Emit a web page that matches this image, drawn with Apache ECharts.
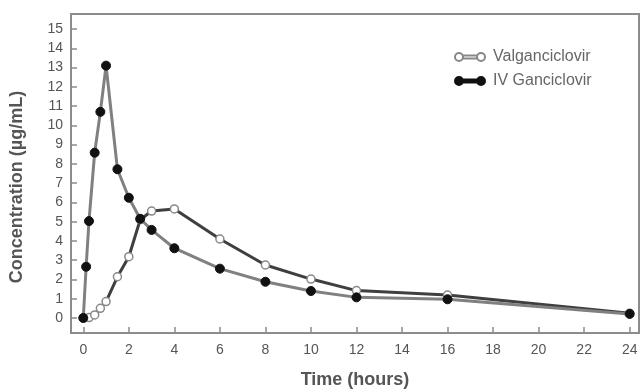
<!DOCTYPE html>
<html>
<head>
<meta charset="utf-8">
<script src="https://cdn.jsdelivr.net/npm/echarts@6/dist/echarts.min.js"></script>
<style>
  html, body { margin: 0; padding: 0; background: #fff; }
  #chart { width: 641px; height: 389px; }
</style>
</head>
<body>
<div id="chart"></div>
<script>
// values (time in hours, concentration in µg/mL)
var valganTimes = [0, 0.25, 0.5, 0.75, 1, 1.5, 2, 2.5, 3, 4, 6, 8, 10, 12, 16, 24];
var valganConc = [0, 0.02, 0.16, 0.5, 0.85, 2.14, 3.18, 5.1, 5.55, 5.66, 4.1, 2.75, 2.02, 1.42, 1.19, 0.25];

var ivTimes = [0, 0.125, 0.25, 0.5, 0.75, 1, 1.5, 2, 2.5, 3, 4, 6, 8, 10, 12, 16, 24];
var ivConc = [0, 2.66, 5.03, 8.58, 10.7, 13.1, 7.72, 6.24, 5.15, 4.57, 3.62, 2.56, 1.88, 1.4, 1.07, 0.97, 0.21];

var seriesNames = ["Valganciclovir", "IV Ganciclovir"];

// tick labels
var xTicks = [0, 2, 4, 6, 8, 10, 12, 14, 16, 18, 20, 22, 24];
var yTicks = [0, 1, 2, 3, 4, 5, 6, 7, 8, 9, 10, 11, 12, 13, 14, 15];

function pairs(xs, ys) {
  return xs.map(function (x, i) { return [x, ys[i]]; });
}

var labelColor = "#555";
var frameColor = "#8c8c8c";
var font = "Liberation Sans";
// line with a circle at each end, like the legend keys in the figure
var legendKey = "path://M0,4a4,4 0 1,0 8,0a4,4 0 1,0 -8,0zM22,4a4,4 0 1,0 8,0a4,4 0 1,0 -8,0zM8,2.5h14v3h-14z";

var myecharts = echarts.init(document.getElementById("chart"));

var option = {
  animation: false,
  backgroundColor: "#fff",
  grid: {
    left: 71, right: 2, top: 14, bottom: 56,
    outerBoundsMode: "none",
    containLabel: false,
    show: true, borderColor: frameColor, borderWidth: 2
  },
  legend: {
    orient: "vertical",
    left: 449,
    top: 44,
    icon: legendKey,
    itemWidth: 30,
    itemHeight: 8,
    itemGap: 8,
    textStyle: { fontFamily: font, fontSize: 16, color: "#666", padding: [0, 0, 0, 3] },
    data: seriesNames
  },
  xAxis: {
    type: "value",
    min: -0.54,
    max: 24.41,
    name: "Time (hours)",
    nameLocation: "middle",
    nameGap: 38,
    nameTextStyle: { fontFamily: font, fontSize: 18, fontWeight: "bold", color: labelColor },
    axisLine: { show: false, onZero: false },
    axisTick: { show: true, inside: true, length: 6, customValues: xTicks, lineStyle: { color: frameColor, width: 1.5 } },
    axisLabel: { margin: 10, customValues: xTicks, fontFamily: font, fontSize: 14, color: labelColor },
    splitLine: { show: false }
  },
  yAxis: {
    type: "value",
    min: -0.78,
    max: 15.78,
    name: "Concentration (µg/mL)",
    nameLocation: "middle",
    nameGap: 45,
    nameTextStyle: { fontFamily: font, fontSize: 18, fontWeight: "bold", color: labelColor, padding: [0, 27, 0, 0] },
    axisLine: { show: false, onZero: false },
    axisTick: { show: true, inside: true, length: 6, customValues: yTicks, lineStyle: { color: frameColor, width: 1.5 } },
    axisLabel: { margin: 8, customValues: yTicks, fontFamily: font, fontSize: 14, color: labelColor },
    splitLine: { show: false }
  },
  series: [
    {
      name: seriesNames[0],
      type: "line",
      data: pairs(valganTimes, valganConc),
      z: 2,
      symbol: "circle",
      symbolSize: 8,
      lineStyle: { color: "#3f3f3f", width: 3 },
      itemStyle: { color: "#fff", borderColor: "#888", borderWidth: 1.5 }
    },
    {
      name: seriesNames[1],
      type: "line",
      data: pairs(ivTimes, ivConc),
      z: 3,
      symbol: "circle",
      symbolSize: 9,
      lineStyle: { color: "#808080", width: 3 },
      itemStyle: { color: "#111", borderColor: "#111", borderWidth: 1 }
    }
  ]
};

myecharts.setOption(option, true);
</script>
</body>
</html>
